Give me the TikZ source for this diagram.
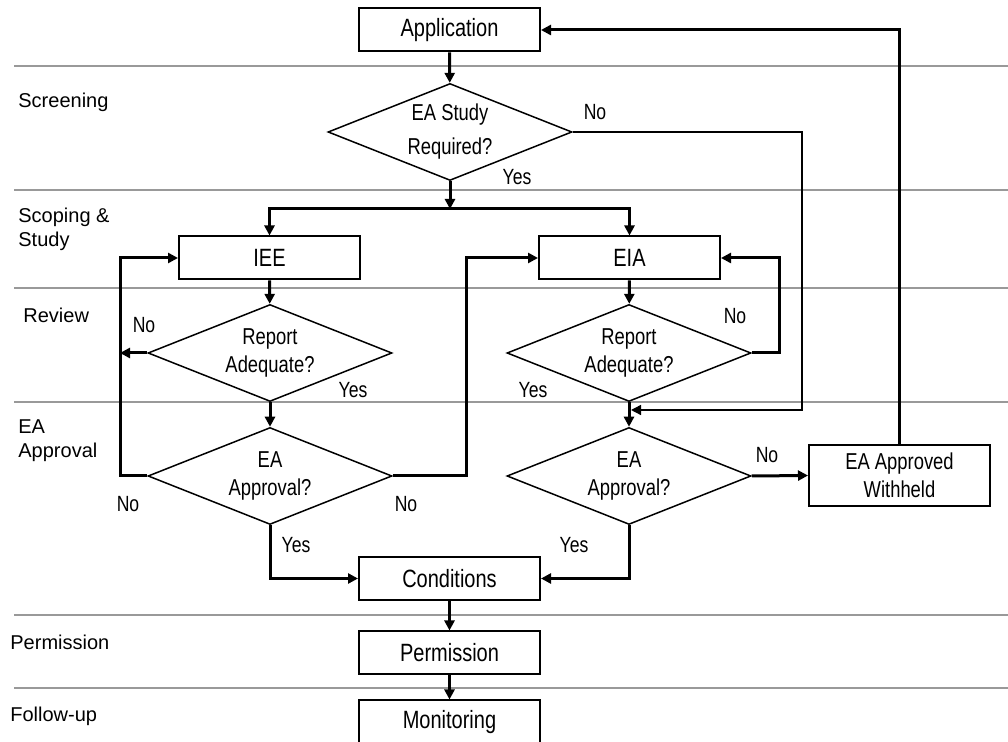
\documentclass[tikz,border=0pt]{standalone}
\usepackage{fontspec}
\setmainfont{Liberation Sans}
\newfontfamily\narrowfont[FakeStretch=0.8]{Liberation Sans}
\usetikzlibrary{arrows.meta,shapes.geometric}

\tikzset{
    box/.style={draw, line width=1pt, fill=white, inner sep=0pt,
        minimum width=90.5pt, minimum height=21.5pt,
        font=\narrowfont\fontsize{12.5}{14}\selectfont},
    decision/.style={draw, diamond, line width=0.75pt, fill=white, inner sep=0pt,
        minimum width=122pt, minimum height=48.5pt},
    dtext/.style={font=\narrowfont\fontsize{11.5}{14}\selectfont, align=center},
    answer/.style={font=\narrowfont\fontsize{11}{13}\selectfont, inner sep=0pt},
    phase/.style={font=\fontsize{10}{12}\selectfont, anchor=west, align=left, inner sep=0pt},
    sep/.style={gray!80, line width=1pt},
    flow/.style={line width=1.5pt, -{Triangle[length=5pt,width=5pt]}},
    thinflow/.style={line width=0.7pt, -{Triangle[length=5pt,width=5pt]}}
}

\begin{document}
\begin{tikzpicture}[x=0.5pt, y=-0.5pt]
        % ==== FRAME ====
        \useasboundingbox (0,0) rectangle (1008,742);

        % ==== STAGE SEPARATORS ====
        \foreach \y in {66,190,288,402,615,688}
            \draw[sep] (14,\y) -- (1008,\y);

        % ==== STAGE NAMES ====
        \node[phase] (screening) at (18,102) {Screening};
        \node[phase] (scoping) at (18,229) {Scoping \&\\Study};
        \node[phase] (review) at (23,315) {Review};
        \node[phase] (approval) at (18,441) {EA\\Approval};
        \node[phase] (permission) at (10,642) {Permission};
        \node[phase] (followup) at (10,716) {Follow-up};

        % ==== BOXES ====
        \node[box] (app) at (449.5,30) {Application};
        \node[box] (iee) at (269.5,258) {IEE};
        \node[box] (eia) at (629.5,258) {EIA};
        \node[box] (cond) at (449.5,578.5) {Conditions};
        \node[box] (perm) at (449.5,653) {Permission};
        \node[box] (mon) at (449.5,722) {Monitoring};
        \node[box, minimum height=30.5pt, align=center,
            font=\narrowfont\fontsize{11.5}{14}\selectfont] (withheld) at (899.5,475.5)
            {EA Approved\\Withheld};

        % ==== DECISIONS ====
        \node[decision, label={[dtext]center:{EA Study\\[3pt]Required?}}] (study) at (450,132) {};
        \node[decision, label={[dtext]center:{Report\\Adequate?}}] (repiee) at (270,353) {};
        \node[decision, label={[dtext]center:{Report\\Adequate?}}] (repeia) at (629,353) {};
        \node[decision, label={[dtext]center:{EA\\Approval?}}] (appiee) at (270,476) {};
        \node[decision, label={[dtext]center:{EA\\Approval?}}] (appeia) at (629,476) {};

        % ==== HELPER POINTS ====
        \coordinate (split) at (450,209);
        \coordinate (leftbus) at (120,476);
        \coordinate (midbus) at (466,476);
        \coordinate (rightbus) at (779,353);
        \coordinate (skip) at (802,132);
        \coordinate (merge) at (631,410);

        % ==== CONNECTORS ====
        \draw[flow] (app) -- (study);
        \draw[flow] (study) -- (split);
        \draw[flow] (split) -| (iee);
        \draw[flow] (split) -| (eia);
        \draw[thinflow] (study.east) -- (skip) |- (merge);

        \draw[flow] (iee) -- (repiee);
        \draw[flow] (repiee.west) -- (leftbus |- repiee.west);
        \draw[flow] (appiee.west) -- (leftbus) |- (iee.west);
        \draw[flow] (repiee) -- (appiee);
        \draw[flow] (appiee.east) -- (midbus) |- (eia.west);
        \draw[flow] (appiee.south) |- (cond.west);

        \draw[flow] (eia) -- (repeia);
        \draw[flow] (repeia.east) -- (rightbus) |- (eia.east);
        \draw[flow] (repeia) -- (appeia);
        \draw[flow] (appeia.east) -- (withheld.west);
        \draw[flow] (withheld.north) |- (app.east);
        \draw[flow] (appeia.south) |- (cond.east);

        \draw[flow] (cond) -- (perm);
        \draw[flow] (perm) -- (mon);

        % ==== ANSWERS ====
        \node[answer] (nostudy) at (595,112) {No};
        \node[answer] (yesstudy) at (517,177) {Yes};
        \node[answer] (noriee) at (144,325) {No};
        \node[answer] (yesriee) at (353,390) {Yes};
        \node[answer] (noreia) at (735,316) {No};
        \node[answer] (yesreia) at (533,390) {Yes};
        \node[answer] (noaleft) at (128,504) {No};
        \node[answer] (noamid) at (406,504) {No};
        \node[answer] (noaright) at (767,455) {No};
        \node[answer] (yesaiee) at (296,545) {Yes};
        \node[answer] (yesaeia) at (574,545) {Yes};
\end{tikzpicture}
\end{document}
